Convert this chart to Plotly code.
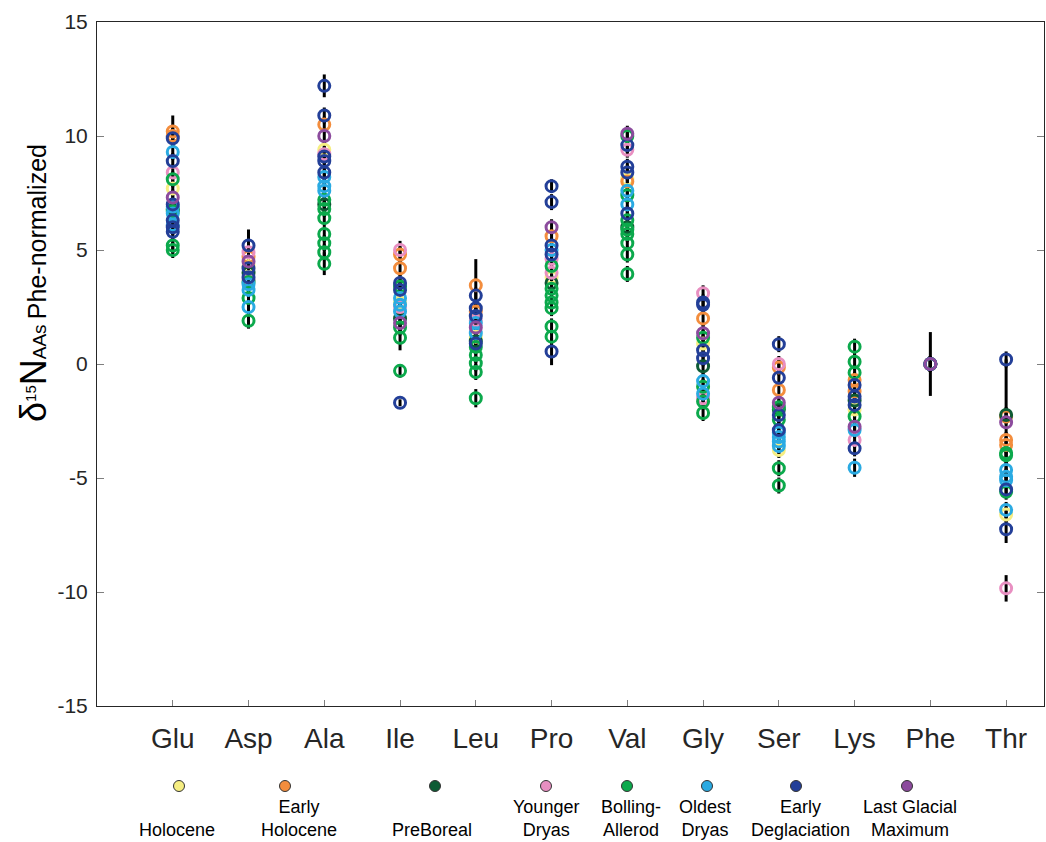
import plotly.graph_objects as go

# ---------------- data ----------------
AMINO_ACIDS = ["Glu", "Asp", "Ala", "Ile", "Leu", "Pro", "Val", "Gly", "Ser", "Lys", "Phe", "Thr"]

PERIODS = ["Holocene", "Early Holocene", "PreBoreal", "Younger Dryas",
           "Bolling-Allerod", "Oldest Dryas", "Early Deglaciation", "Last Glacial Maximum"]

LEGEND_LABELS = ["Holocene", "Early<br>Holocene", "PreBoreal", "Younger<br>Dryas",
                 "Bolling-<br>Allerod", "Oldest<br>Dryas", "Early<br>Deglaciation",
                 "Last Glacial<br>Maximum"]

COLORS = ["#f6ee82", "#f38d3d", "#0e5b35", "#e88fc1",
          "#0ca94c", "#2aaae2", "#233f98", "#8c4b9d"]

holocene = {"Glu": [7.7], "Asp": [4.3], "Ala": [9.4], "Ile": [2.7], "Leu": [1.2], "Pro": [3.8],
            "Val": [8.1], "Gly": [0.9], "Ser": [-3.77], "Lys": [-2.0], "Phe": [0.0], "Thr": [-6.6]}
early_holocene = {"Glu": [10.0, 10.2], "Asp": [4.7], "Ala": [10.5], "Ile": [4.8, 4.2], "Leu": [3.45, 2.3],
                  "Pro": [5.6], "Val": [8.0], "Gly": [2.0], "Ser": [-0.15, -1.14], "Lys": [-0.7, -1.2],
                  "Phe": [0.0], "Thr": [-2.3, -3.33, -3.55]}
preboreal = {"Glu": [6.8], "Asp": [4.0], "Ala": [7.0], "Ile": [2.0], "Leu": [1.0], "Pro": [3.55],
             "Val": [6.0], "Gly": [-0.1], "Ser": [-2.0], "Lys": [-1.6], "Phe": [0.0], "Thr": [-2.24]}
younger_dryas = {"Glu": [8.4], "Asp": [4.9, 3.7], "Ala": [9.2], "Ile": [5.0, 2.5], "Leu": [1.9],
                 "Pro": [4.6, 4.0], "Val": [9.4], "Gly": [3.1, -1.5], "Ser": [0.0], "Lys": [-3.33],
                 "Phe": [0.0], "Thr": [-9.84]}
bolling_allerod = {"Glu": [8.1, 6.7, 5.2, 5.0], "Asp": [3.6, 2.9, 1.9],
                   "Ala": [7.2, 6.8, 6.4, 5.7, 5.3, 4.9, 4.4], "Ile": [3.4, 1.6, 1.15, -0.3],
                   "Leu": [0.75, 0.4, 0.03, -0.35, -1.5], "Pro": [4.3, 3.3, 3.0, 2.7, 2.45, 1.65, 1.2],
                   "Val": [10.0, 7.4, 6.3, 5.9, 5.7, 5.3, 4.8, 3.95], "Gly": [1.15, -1.0, -1.65, -2.15],
                   "Ser": [-1.9, -2.45, -4.57, -5.33], "Lys": [0.76, 0.1, -0.38, -2.3], "Phe": [0.0],
                   "Thr": [-3.9, -4.0, -5.6]}
oldest_dryas = {"Glu": [9.3, 6.9, 6.6, 6.1], "Asp": [3.5, 3.25, 2.5], "Ala": [8.2, 7.8, 7.6],
                "Ile": [2.9, 2.6, 2.3], "Leu": [1.8, 1.35], "Pro": [5.0], "Val": [7.6, 7.0],
                "Gly": [-0.75, -1.3], "Ser": [-3.0, -3.2, -3.4, -3.6], "Lys": [-2.9, -4.55],
                "Phe": [0.0], "Thr": [-4.65, -4.94, -5.1, -6.4]}
early_deglaciation = {"Glu": [9.9, 8.9, 7.0, 6.3, 6.0, 5.8], "Asp": [5.2, 4.2, 3.8],
                      "Ala": [12.2, 10.9, 9.1, 8.9, 8.4], "Ile": [3.55, 3.25, -1.7],
                      "Leu": [3.0, 2.45, 2.1, 0.9], "Pro": [7.8, 7.1, 5.2, 4.8, 0.55],
                      "Val": [9.6, 8.65, 8.4, 6.6], "Gly": [2.7, 2.6, 0.6, 0.25],
                      "Ser": [0.87, -0.6, -2.24, -2.9], "Lys": [-0.92, -1.43, -1.8, -3.7],
                      "Phe": [0.0], "Thr": [0.2, -5.5, -7.25]}
last_glacial_maximum = {"Glu": [7.3], "Asp": [4.5], "Ala": [10.0], "Ile": [1.8], "Leu": [1.6],
                        "Pro": [6.0], "Val": [10.1], "Gly": [1.35], "Ser": [-1.7], "Lys": [-2.75],
                        "Phe": [0.0], "Thr": [-2.56]}

SERIES = [holocene, early_holocene, preboreal, younger_dryas,
          bolling_allerod, oldest_dryas, early_deglaciation, last_glacial_maximum]

DEFAULT_ERR = 0.35
# (period, amino acid, value) -> 1-sigma error
ERR_OVERRIDES = {
    ("Early Holocene", "Glu", 10.2): 0.7,
    ("Early Deglaciation", "Ala", 12.2): 0.5,
    ("Bolling-Allerod", "Ala", 4.4): 0.5,
    ("Early Deglaciation", "Asp", 5.2): 0.7,
    ("Younger Dryas", "Ile", 5.0): 0.4,
    ("Bolling-Allerod", "Ile", 1.15): 0.55,
    ("Bolling-Allerod", "Ile", -0.3): 0.3,
    ("Early Deglaciation", "Ile", -1.7): 0.15,
    ("Early Holocene", "Leu", 3.45): 1.15,
    ("Bolling-Allerod", "Leu", -1.5): 0.4,
    ("Early Deglaciation", "Pro", 7.8): 0.3,
    ("Early Deglaciation", "Pro", 0.55): 0.6,
    ("Oldest Dryas", "Lys", -4.55): 0.4,
    ("Last Glacial Maximum", "Phe", 0.0): 1.4,
    ("Last Glacial Maximum", "Thr", -2.56): 2.76,
    ("Early Deglaciation", "Thr", -7.25): 0.6,
    ("Younger Dryas", "Thr", -9.84): 0.58,
}

Y_TICKS = [-15, -10, -5, 0, 5, 10, 15]

# ---------------- layout constants ----------------
W, H = 1046, 842
ML, MR, MT, MB = 97, 2, 22, 0
PLOT_BOTTOM_PX = 706
FONT = "Liberation Sans, Arial, Helvetica, sans-serif"
INK = "#262626"

plot_w = W - ML - MR
plot_h = H - MT - MB


def px_to_paper_x(px):
    return (px - ML) / plot_w


def px_to_paper_y(py):
    return (H - MB - py) / plot_h


main_bottom = px_to_paper_y(PLOT_BOTTOM_PX)

fig = go.Figure()

# error bars (drawn first, underneath all markers)
ex, ey = [], []
for period, series in zip(PERIODS, SERIES):
    for i, aa in enumerate(AMINO_ACIDS):
        for v in series.get(aa, []):
            e = ERR_OVERRIDES.get((period, aa, v), DEFAULT_ERR)
            ex += [i + 1, i + 1, None]
            ey += [v - e, v + e, None]
fig.add_trace(go.Scatter(x=ex, y=ey, mode="lines", line=dict(color="black", width=3),
                         hoverinfo="skip", showlegend=False))

# data markers
for period, series, color in zip(PERIODS, SERIES, COLORS):
    xs, ys = [], []
    for i, aa in enumerate(AMINO_ACIDS):
        for v in series.get(aa, []):
            xs.append(i + 1)
            ys.append(v)
    fig.add_trace(go.Scatter(
        x=xs, y=ys, mode="markers", name=period, showlegend=False,
        marker=dict(symbol="circle-open", size=11, color=color, line=dict(color=color, width=3)),
    ))

# custom legend (markers above labels)
LEGEND_MARKER_PX = [179, 285, 435, 546, 627, 707, 796, 907]
LEGEND_LABEL_PX = [177, 299, 432, 546, 631, 705, 800, 910]
fig.add_trace(go.Scatter(
    x=[px_to_paper_x(p) for p in LEGEND_MARKER_PX], y=[0.5] * len(PERIODS),
    mode="markers", xaxis="x2", yaxis="y2", showlegend=False, hoverinfo="skip",
    marker=dict(size=11, color=COLORS, line=dict(color="#333333", width=1)),
))

annotations = []
for lbl, pxx in zip(LEGEND_LABELS, LEGEND_LABEL_PX):
    annotations.append(dict(
        x=px_to_paper_x(pxx), y=px_to_paper_y(841), xref="paper", yref="paper",
        text=lbl, showarrow=False, xanchor="center", yanchor="bottom", borderpad=0,
        font=dict(family=FONT, size=18, color="black"),
    ))

# y-axis title
annotations.append(dict(
    x=px_to_paper_x(34), y=px_to_paper_y(283), xref="paper", yref="paper",
    text=('<span style="font-size:36px">δ</span>'
          '<sup><span style="font-size:15px">15</span></sup>'
          '<span style="font-size:36px">N</span>'
          '<span style="font-size:19px">AAs </span>'
          '<span style="font-size:25px">Phe-normalized</span>'),
    textangle=-90, showarrow=False, xanchor="center", yanchor="middle",
    font=dict(family=FONT, size=25, color="black"),
))

fig.update_layout(
    width=W, height=H,
    margin=dict(l=ML, r=MR, t=MT, b=MB, autoexpand=False),
    paper_bgcolor="white", plot_bgcolor="white",
    showlegend=False,
    font=dict(family=FONT, color=INK),
    annotations=annotations,
    xaxis=dict(
        domain=[0, 1], range=[0, 12.5],
        tickmode="array", tickvals=list(range(1, len(AMINO_ACIDS) + 1)), ticktext=AMINO_ACIDS,
        tickfont=dict(family=FONT, size=28, color=INK),
        ticks="inside", ticklen=6, tickcolor="#7f7f7f", tickwidth=1,
        showline=True, linecolor=INK, linewidth=1, mirror=True,
        showgrid=False, zeroline=False, ticklabelstandoff=7,
    ),
    yaxis=dict(
        domain=[main_bottom, 1], range=[-15, 15],
        tickmode="array", tickvals=Y_TICKS, ticktext=[str(t) for t in Y_TICKS],
        tickfont=dict(family=FONT, size=21, color=INK),
        ticks="inside", ticklen=7, tickcolor="#7f7f7f", tickwidth=1,
        showline=True, linecolor=INK, linewidth=1, mirror="ticks",
        showgrid=False, zeroline=False, ticklabelstandoff=4,
    ),
    xaxis2=dict(domain=[0, 1], range=[0, 1], visible=False, anchor="y2"),
    yaxis2=dict(domain=[px_to_paper_y(800), px_to_paper_y(772)], range=[0, 1],
                visible=False, anchor="x2"),
)

fig.write_html("out.html")
